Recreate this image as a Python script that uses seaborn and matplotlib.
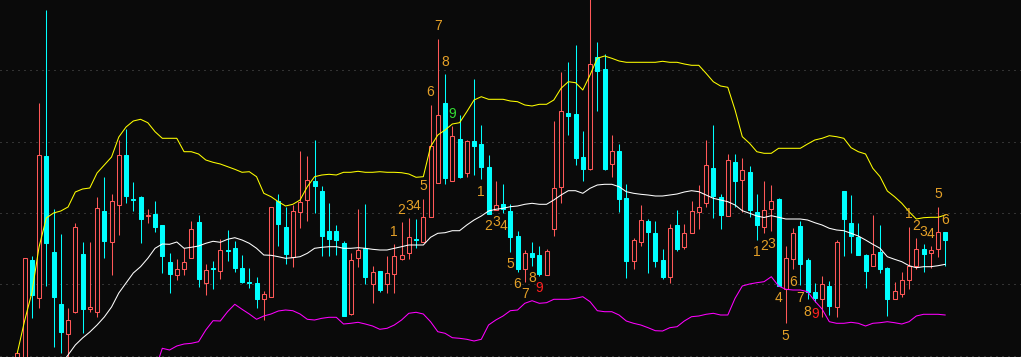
import numpy as np
import pandas as pd
import matplotlib
matplotlib.use("Agg")
import matplotlib.pyplot as plt
import seaborn as sns

# ---------------- data (price units, arbitrary scale) ----------------
opens = [-20, -10, 100, 62, 204, 108, 56, 26, 48, 106,
         51, 48, 149, 118, 155, 205, 161, 163, 144, 146,
         135, 98, 85, 91, 102, 138, 77, 92, 89, 110,
         112, 92, 78, 77, 61, 63, 159, 133, 103, 148,
         160, 179, 169, 129, 129, 117, 46, 102, 112, 76,
         89, 76, 86, 101, 107, 121, 118, 143, 177, 257,
         179, 221, 187, 219, 216, 193, 150, 156, 149, 124,
         91, 107, 105, 85, 131, 173, 247, 246, 203, 191,
         303, 291, 196, 209, 162, 99, 118, 139, 127, 100,
         83, 135, 113, 127, 148, 157, 192, 163, 144, 198,
         180, 188, 148, 133, 151, 161, 71, 101, 134, 100,
         68, 61, 74, 53, 169, 137, 123, 105, 94, 108,
         92, 61, 66, 80, 94, 111, 107, 111, 128]
highs = [8, 102, 104, 257, 350, 151, 126, 52, 137, 118,
         118, 163, 183, 166, 220, 231, 178, 164, 151, 159,
         135, 107, 101, 112, 139, 145, 96, 99, 121, 130,
         119, 105, 92, 83, 69, 153, 166, 153, 155, 209,
         204, 220, 174, 157, 135, 119, 107, 151, 156, 94,
         89, 104, 116, 138, 142, 141, 161, 255, 321, 286,
         234, 245, 220, 281, 235, 205, 179, 176, 156, 129,
         110, 118, 114, 111, 239, 288, 298, 315, 229, 365,
         318, 306, 225, 216, 176, 122, 155, 141, 139, 111,
         136, 150, 136, 159, 175, 220, 235, 166, 206, 206,
         202, 194, 166, 179, 175, 162, 114, 132, 139, 102,
         77, 84, 79, 120, 169, 165, 137, 106, 145, 135,
         93, 78, 88, 133, 122, 116, 114, 153, 128]
lows = [-30, -20, 42, 52, 74, 13, 7, -5, 47, 27,
        48, 43, 102, 85, 125, 157, 149, 117, 137, 128,
        87, 67, 80, 85, 102, 73, 65, 71, 81, 99,
        88, 77, 72, 52, 40, 63, 114, 96, 93, 132,
        139, 147, 104, 104, 105, 44, 45, 93, 76, 57,
        68, 67, 67, 100, 101, 112, 118, 143, 177, 176,
        179, 182, 183, 185, 181, 146, 150, 147, 108, 88,
        78, 94, 84, 85, 124, 157, 225, 195, 179, 190,
        249, 190, 183, 148, 82, 91, 114, 87, 93, 81,
        77, 109, 111, 127, 131, 153, 142, 131, 144, 153,
        148, 143, 120, 127, 129, 74, 37, 91, 75, 61,
        58, 43, 45, 43, 104, 107, 105, 72, 94, 87,
        44, 61, 63, 71, 91, 88, 92, 103, 94]
closes = [7, 102, 65, 205, 117, 63, 28, 40, 133, 51,
          53, 152, 119, 159, 205, 164, 160, 141, 145, 133,
          104, 86, 91, 98, 131, 81, 90, 91, 110, 109,
          92, 78, 77, 61, 66, 153, 136, 106, 149, 158,
          180, 174, 124, 121, 120, 44, 100, 110, 83, 88,
          70, 87, 104, 105, 123, 120, 143, 214, 245, 182,
          224, 183, 219, 214, 193, 146, 155, 151, 123, 91,
          107, 103, 86, 109, 172, 249, 244, 202, 191, 296,
          289, 191, 209, 161, 99, 120, 140, 128, 99, 83,
          132, 111, 127, 149, 153, 195, 164, 145, 200, 179,
          190, 150, 135, 150, 159, 74, 102, 127, 96, 68,
          62, 76, 54, 118, 141, 124, 105, 89, 106, 91,
          61, 69, 80, 94, 111, 106, 110, 128, 120]

nan = float("nan")
upper = [7, 39, 67, 113, 142, 147, 149, 153, 168, 171,
         172, 187, 195, 203, 223, 233, 239, 240.7, 237.3, 228.3,
         221.7, 221.7, 221.7, 208.3, 208.3, 206, 200, 197.7, 196, 193.3,
         190.7, 187.7, 188.3, 183.3, 166.7, 163.3, 158.3, 154, 155.7, 160,
         173.3, 183.3, 185, 185.7, 185, 187.7, 187.7, 188.7, 187.7, 187.7,
         188.3, 187.7, 187.7, 187.3, 186, 182.7, 183.3, 213.3, 225, 230,
         236, 237.3, 248.3, 260, 263.3, 260.7, 260.7, 260.7, 259, 258.3,
         255, 254, 255.7, 255.7, 260, 271.7, 278.3, 277.3, 270, 285,
         301.7, 304, 301.7, 299, 297.7, 297.7, 297.7, 297.7, 297.7, 298.7,
         297.7, 297.7, 296, 294.7, 294.7, 286.7, 278.3, 274, 272.7, 250,
         223.3, 216.7, 208.3, 206.7, 206.7, 211.7, 211.7, 211.7, 211.7, 216,
         220, 221.7, 224.3, 223.3, 221.7, 212.3, 208.3, 206, 191.7, 183.3,
         169, 163.3, 156.7, 148.3, 141, 142.3, 142.7, 142.7, 145]
middle = [nan, nan, nan, nan, nan, nan, -5, 5, 15, 22,
          28, 35, 43, 53, 67, 77, 87, 93.3, 101.7, 111.7,
          116, 115.7, 118, 111.7, 112.7, 114, 116.7, 118.7, 117.7, 120.7,
          122.3, 120, 116.7, 111.7, 105, 104.7, 103.3, 101.7, 102.3, 103.3,
          106.7, 111.7, 112.7, 113.3, 113.3, 111.7, 111.7, 112.3, 111.7, 110.7,
          110, 110, 111.7, 113.3, 115, 115, 115, 122.7, 126.7, 127.3,
          129.3, 129.3, 135, 140, 144, 149, 150.7, 151.7, 153.3, 154,
          155.7, 156.7, 155.7, 155.7, 160, 165, 169.3, 169.3, 166.7, 171.7,
          175, 175.7, 175.7, 173.3, 168.3, 166.7, 165.7, 165, 164, 164,
          165, 166, 168, 169.3, 168.3, 165, 161.7, 160, 158.3, 155,
          149.3, 146.7, 144, 142.5, 144.3, 142.7, 141, 141, 141, 140,
          137.3, 135, 131.7, 130, 129.3, 126.7, 124, 120, 115.7, 111.7,
          103.3, 100.7, 98.3, 94.3, 92.3, 93.3, 93.3, 94.3, 95.7]
lower = [nan, nan, nan, nan, nan, nan, nan, nan, nan, nan,
         nan, nan, nan, nan, nan, nan, nan, nan, nan, -10,
         11.7, 10, 14, 16, 16.7, 18.3, 30, 39.3, 39, 48.3,
         55.7, 50.7, 46, 40.7, 44, 46, 49, 50, 49.3, 46,
         40.7, 40, 41.7, 42.7, 42.7, 36, 36.7, 37.7, 36, 34,
         30.7, 31.7, 35, 40, 46.7, 47.7, 46, 38.3, 28.3, 26.7,
         22.3, 21.7, 20.7, 19, 20.7, 35, 40, 44, 49.3, 50,
         56.7, 59.3, 56.7, 57.3, 60.7, 60.7, 60.7, 61.7, 63.3, 58.3,
         49.3, 48.3, 48.3, 45, 39, 36.7, 35, 32.3, 29.3, 29,
         32.3, 33.3, 39, 43.3, 44, 45.7, 46.7, 45, 45, 61.7,
         74, 76, 77.3, 78.3, 83.3, 74, 70.7, 70, 70, 68.3,
         59, 51, 38.3, 36.7, 36.7, 37.7, 36.7, 34, 36.7, 37.3,
         38.3, 37.3, 36, 38.3, 44, 45.7, 45.7, 45.7, 45]

grid_levels = [4.5, 76.5, 147.5, 218.5, 290.5]

# TD sequential counts: candle index, number, side (above high / below low)
td_index = [52, 53, 54, 55, 56, 57, 58, 59, 60,
            64, 65, 66, 67, 68, 69, 70, 71, 72,
            102, 103, 104, 105, 106, 107, 108, 109, 110,
            123, 124, 125, 126, 127, 128]
td_label = ["1", "2", "3", "4", "5", "6", "7", "8", "9",
            "1", "2", "3", "4", "5", "6", "7", "8", "9",
            "1", "2", "3", "4", "5", "6", "7", "8", "9",
            "1", "2", "3", "4", "5", "6"]
td_side = ["up"] * 9 + ["down"] * 9 + ["down"] * 9 + ["up"] * 6

# ---------------- style ----------------
BG = "#0a0a0a"
UP = "#ff5858"
DOWN = "#00ffff"
NUM = "#e4a028"
NINE_UP = "#33dd33"
NINE_DOWN = "#ff2020"

sns.set_theme(style="dark", rc={"axes.facecolor": BG, "figure.facecolor": BG,
                                "savefig.facecolor": BG})
plt.rcParams["font.family"] = ["Liberation Sans", "DejaVu Sans"]

df = pd.DataFrame({"open": opens, "high": highs, "low": lows, "close": closes,
                   "upper": upper, "middle": middle, "lower": lower})
df["idx"] = np.arange(len(df))

fig = plt.figure(figsize=(10.21, 3.57), dpi=100)
ax = fig.add_axes([0, 0, 1, 1])
ax.set_facecolor(BG)

for g in grid_levels:
    ax.axhline(g, color="#5c5c5c", lw=0.72, ls=(0, (1, 5)), zorder=0)

up = (df["close"] >= df["open"]).values
x = df["idx"].values
wick_colors = np.where(up, UP, DOWN)
ax.vlines(x, df["low"], df["high"], colors=wick_colors, lw=0.75, zorder=2)

body_bottom = np.minimum(df["open"], df["close"]).values
body_height = np.maximum(np.abs(df["close"] - df["open"]).values, 0.6)
W = 0.55
ax.bar(x[up], body_height[up], bottom=body_bottom[up], width=W,
       facecolor=BG, edgecolor=UP, linewidth=0.75, zorder=3)
ax.bar(x[~up], body_height[~up], bottom=body_bottom[~up], width=W,
       facecolor=DOWN, edgecolor=DOWN, linewidth=0.75, zorder=3)

sns.lineplot(data=df, x="idx", y="upper", color="#ffff00", lw=0.75, ax=ax,
             legend=False, zorder=4)
sns.lineplot(data=df, x="idx", y="middle", color="#ffffff", lw=0.75, ax=ax,
             legend=False, zorder=4)
sns.lineplot(data=df, x="idx", y="lower", color="#ff00ff", lw=0.75, ax=ax,
             legend=False, zorder=4)

for i, lab, side in zip(td_index, td_label, td_side):
    if side == "up":
        anchor, dy = df["high"].iloc[i], 9
        col = NINE_UP if lab == "9" else NUM
    else:
        anchor, dy = df["low"].iloc[i], -9
        col = NINE_DOWN if lab == "9" else NUM
    ax.annotate(lab, xy=(i, anchor), xytext=(0, dy), textcoords="offset points",
                ha="center", va="center", color=col, fontsize=10, zorder=5)

ax.set_xlim(-2.386, 138.44)
ax.set_ylim(3, 360)
ax.axis("off")

fig.savefig("out.png", dpi=100, facecolor=BG)
